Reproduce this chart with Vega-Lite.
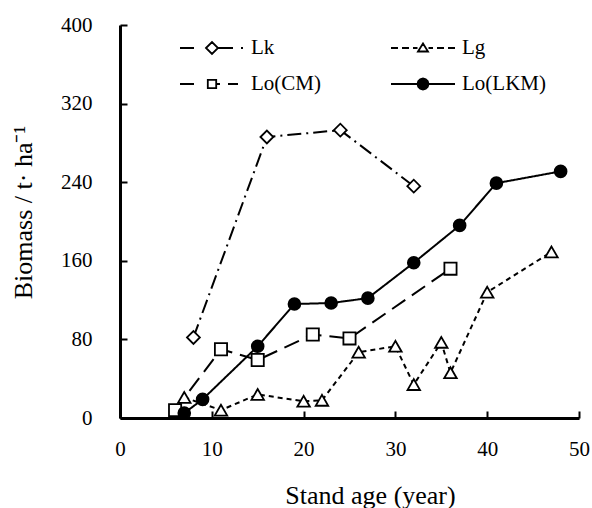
{
  "$schema": "https://vega.github.io/schema/vega-lite/v6.json",
  "width": 459,
  "height": 393,
  "autosize": {"type": "none"},
  "padding": {"left": 120, "top": 25, "right": 13, "bottom": 90},
  "background": "white",
  "data": {
    "values": [
      {"series": "Lk", "age": 8, "biomass": 82},
      {"series": "Lk", "age": 16, "biomass": 286},
      {"series": "Lk", "age": 24, "biomass": 293},
      {"series": "Lk", "age": 32, "biomass": 236},
      {"series": "Lg", "age": 7, "biomass": 21},
      {"series": "Lg", "age": 11, "biomass": 8},
      {"series": "Lg", "age": 15, "biomass": 24},
      {"series": "Lg", "age": 20, "biomass": 17},
      {"series": "Lg", "age": 22, "biomass": 18},
      {"series": "Lg", "age": 26, "biomass": 67},
      {"series": "Lg", "age": 30, "biomass": 73},
      {"series": "Lg", "age": 32, "biomass": 34},
      {"series": "Lg", "age": 35, "biomass": 77},
      {"series": "Lg", "age": 36, "biomass": 46},
      {"series": "Lg", "age": 40, "biomass": 128},
      {"series": "Lg", "age": 47, "biomass": 169},
      {"series": "Lo(CM)", "age": 6, "biomass": 8},
      {"series": "Lo(CM)", "age": 11, "biomass": 70},
      {"series": "Lo(CM)", "age": 15, "biomass": 59},
      {"series": "Lo(CM)", "age": 21, "biomass": 85},
      {"series": "Lo(CM)", "age": 25, "biomass": 81},
      {"series": "Lo(CM)", "age": 36, "biomass": 152},
      {"series": "Lo(LKM)", "age": 7, "biomass": 5},
      {"series": "Lo(LKM)", "age": 9, "biomass": 19},
      {"series": "Lo(LKM)", "age": 15, "biomass": 73},
      {"series": "Lo(LKM)", "age": 19, "biomass": 116},
      {"series": "Lo(LKM)", "age": 23, "biomass": 117},
      {"series": "Lo(LKM)", "age": 27, "biomass": 122},
      {"series": "Lo(LKM)", "age": 32, "biomass": 158},
      {"series": "Lo(LKM)", "age": 37, "biomass": 196},
      {"series": "Lo(LKM)", "age": 41, "biomass": 239},
      {"series": "Lo(LKM)", "age": 48, "biomass": 251}
    ]
  },
  "config": {
    "view": {"stroke": null},
    "font": "Liberation Serif",
    "axis": {
      "grid": false,
      "domainColor": "black",
      "domainWidth": 3,
      "tickColor": "black",
      "tickWidth": 2,
      "tickSize": -7,
      "labelFont": "Liberation Serif",
      "labelFontSize": 21,
      "labelColor": "black",
      "titleFont": "Liberation Serif",
      "titleFontSize": 26,
      "titleFontWeight": "normal",
      "titleColor": "black"
    }
  },
  "resolve": {
    "scale": {"shape": "independent", "fill": "independent"},
    "legend": {"shape": "independent", "fill": "independent"}
  },
  "encoding": {
    "x": {
      "field": "age",
      "type": "quantitative",
      "scale": {"domain": [0, 50], "nice": false},
      "axis": {"values": [0, 10, 20, 30, 40, 50], "title": "Stand age (year)", "labelPadding": 27, "titlePadding": 23, "titleX": 250, "labelFlush": false}
    },
    "y": {
      "field": "biomass",
      "type": "quantitative",
      "scale": {"domain": [0, 400], "nice": false},
      "axis": {"values": [0, 80, 160, 240, 320, 400], "title": "Biomass / t· ha⁻¹", "labelPadding": 35, "titlePadding": 24, "titleY": 187}
    }
  },
  "layer": [
    {
      "mark": {"type": "line", "color": "black", "strokeWidth": 2},
      "encoding": {
        "strokeDash": {
          "field": "series",
          "type": "nominal",
          "scale": {"domain": ["Lo(LKM)", "Lo(CM)", "Lg", "Lk"], "range": [[1, 0], [16, 8], [5, 4], [14, 5, 2, 5]]},
          "legend": null
        }
      }
    },
    {
      "mark": {"type": "point", "stroke": "black", "strokeWidth": 1.8, "opacity": 1},
      "encoding": {
        "shape": {
          "field": "series",
          "type": "nominal",
          "scale": {"domain": ["Lo(LKM)", "Lo(CM)", "Lg", "Lk"], "range": ["circle", "square", "triangle-up", "diamond"]},
          "legend": null
        },
        "fill": {
          "field": "series",
          "type": "nominal",
          "scale": {"domain": ["Lo(LKM)", "Lo(CM)", "Lg", "Lk"], "range": ["black", "white", "white", "white"]},
          "legend": null
        },
        "size": {
          "field": "series",
          "type": "nominal",
          "scale": {"domain": ["Lo(LKM)", "Lo(CM)", "Lg", "Lk"], "range": [140, 165, 180, 150]},
          "legend": null
        }
      }
    },
    {
      "mark": {"type": "point", "color": "black", "stroke": "black", "filled": false, "strokeWidth": 1.8, "size": 140, "opacity": 0},
      "encoding": {
        "shape": {
          "field": "series",
          "type": "nominal",
          "scale": {
            "domain": ["Lk", "Lg", "Lo(CM)", "Lo(LKM)"],
            "range": [
              "M-3.2,0H-1.8M-0.6,0L0,-0.6L0.6,0L0,0.6ZM0.6,0H2.1M2.9,0H3.1",
              "M-3.2,0H-2.5M-2.1,0H-1.4M-1,0H-0.55M-0.5,0.35L0,-0.45L0.5,0.35ZM0.55,0H1M1.4,0H2.1M2.5,0H3.2",
              "M-3.2,0H-1.8M-0.42,-0.42H0.42V0.42H-0.42ZM0.42,0H0.8M1.6,0H2.6",
              "M-3.2,0H3.2M0.55,0L0.476,0.275L0.275,0.476L0,0.55L-0.275,0.476L-0.476,0.275L-0.55,0L-0.476,-0.275L-0.275,-0.476L0,-0.55L0.275,-0.476L0.476,-0.275Z"
            ]
          },
          "legend": {
            "title": null,
            "orient": "none",
            "direction": "horizontal",
            "legendX": 81,
            "legendY": 12,
            "columns": 2,
            "columnPadding": 66,
            "rowPadding": 15,
            "padding": 0,
            "symbolSize": 400,
            "symbolOpacity": 1,
            "labelOffset": 28,
            "labelFont": "Liberation Serif",
            "labelFontSize": 21,
            "labelColor": "black",
            "symbolStrokeWidth": 1.8
          }
        },
        "fill": {
          "field": "series",
          "type": "nominal",
          "scale": {"domain": ["Lk", "Lg", "Lo(CM)", "Lo(LKM)"], "range": ["white", "white", "white", "black"]}
        }
      }
    }
  ]
}
